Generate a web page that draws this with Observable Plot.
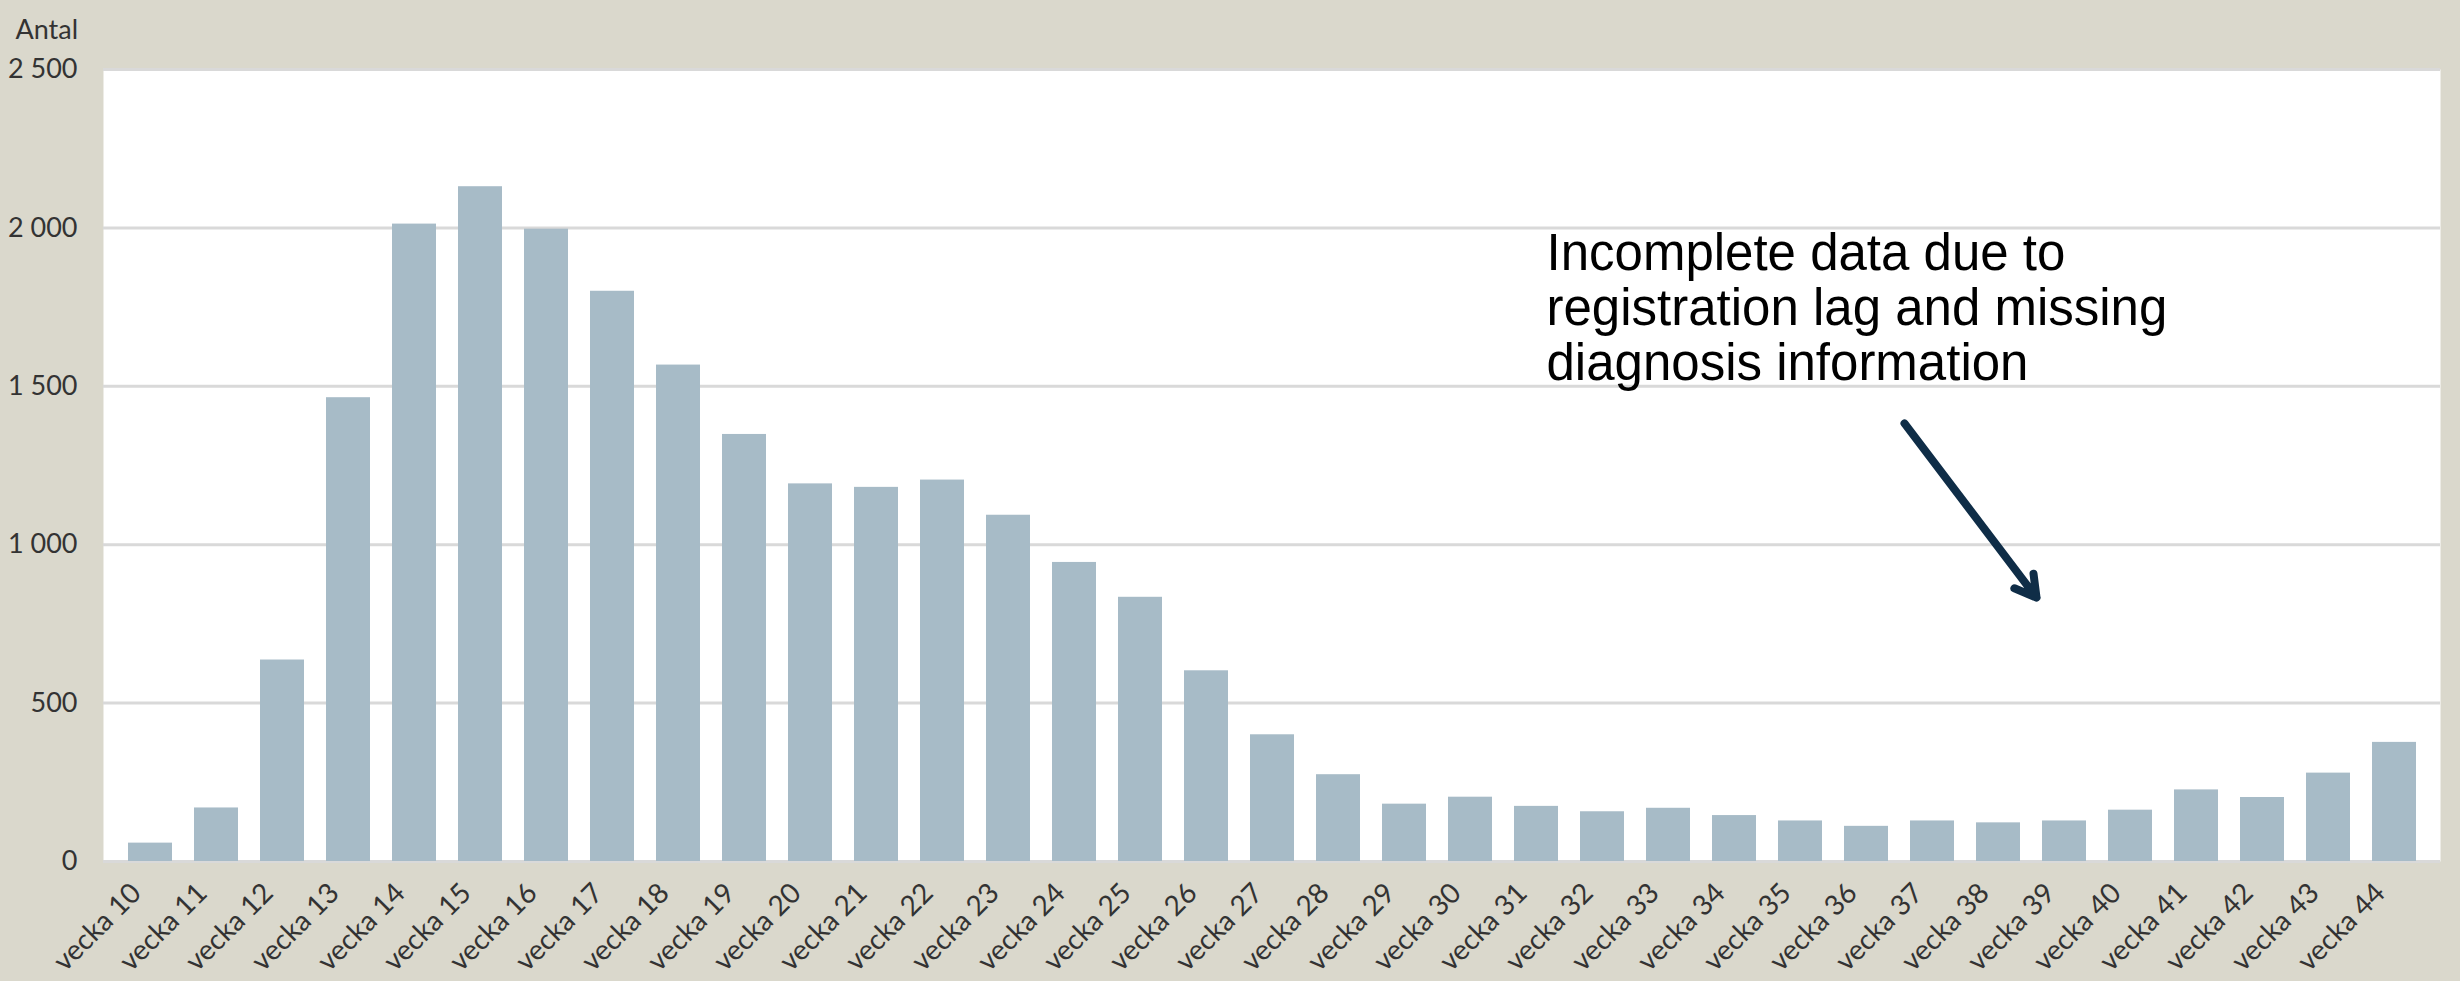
<!DOCTYPE html>
<html><head><meta charset="utf-8">
<script src="https://cdn.jsdelivr.net/npm/d3@7"></script>
<script src="https://cdn.jsdelivr.net/npm/@observablehq/plot@0.6"></script>
<style>html,body{margin:0;padding:0;background:#dad8cc;overflow:hidden}</style>
</head><body><div id="chart"></div>
<script>
const weeks = ["vecka 10","vecka 11","vecka 12","vecka 13","vecka 14","vecka 15","vecka 16","vecka 17","vecka 18","vecka 19",
  "vecka 20","vecka 21","vecka 22","vecka 23","vecka 24","vecka 25","vecka 26","vecka 27","vecka 28","vecka 29",
  "vecka 30","vecka 31","vecka 32","vecka 33","vecka 34","vecka 35","vecka 36","vecka 37","vecka 38","vecka 39",
  "vecka 40","vecka 41","vecka 42","vecka 43","vecka 44"];
const counts = [58,169,636,1464,2012,2130,1996,1800,1567,1348,
  1192,1181,1204,1093,944,834,602,400,274,181,
  203,174,157,168,145,128,111,128,122,128,
  162,226,202,279,376];
const yTicks = [0,500,1000,1500,2000,2500];
const yLabel = "Antal";
const noteLines = ["Incomplete data due to","registration lag and missing","diagnosis information"];
const noteAnchor = [{week:"vecka 31", value:1990}];
const arrowFrom = {week:"vecka 36", value:1383};
const arrowTo = {week:"vecka 38", value:833};

const data = weeks.map((w,i)=>({week:w, count:counts[i]}));
const fmt = d => d3.format(",")(d).replace(/,/g, " ");

const chart = Plot.plot({
  width: 2460, height: 981,
  marginTop: 69, marginLeft: 103, marginRight: 20, marginBottom: 120,
  style: {background:"#dad8cc", fontFamily:"Lato, sans-serif", fontSize:"27px", color:"#333"},
  x: {domain: weeks, paddingInner:0.34, paddingOuter:0.17, label:null},
  y: {domain:[0,2500], ticks:yTicks, label:null, tickFormat: fmt},
  marks: [
    Plot.frame({fill:"white", stroke:null}),
    Plot.gridY(yTicks, {stroke:"#d9d9d9", strokeOpacity:1, strokeWidth:3}),
    Plot.barY(data, {x:"week", y:"count", fill:"#a7bbc7"}),
    Plot.axisY(yTicks, {tickSize:0, tickPadding:26, tickFormat: fmt, label:null, fontSize:27, fill:"#333"}),
    Plot.axisX({tickSize:0, tickPadding:18, tickRotate:-45, label:null, fontSize:28, fill:"#333", dx:-14, dy:9}),
    Plot.text([yLabel], {frameAnchor:"top-left", text:d=>d, textAnchor:"start", dx:-88, dy:-50, fontSize:27, fill:"#333"}),
    Plot.text(noteAnchor, {x:"week", y:"value", text:()=>noteLines.join("\n"), textAnchor:"start", lineAnchor:"top",
      dx:10, fontSize:51, lineHeight:1.08, fontFamily:"'Liberation Sans', Arial, sans-serif", fill:"#000"}),
    Plot.arrow([{from:arrowFrom, to:arrowTo}], {x1:d=>d.from.week, y1:d=>d.from.value, x2:d=>d.to.week, y2:d=>d.to.value,
      stroke:"#0f2d47", strokeWidth:8, headLength:4.5, dx:38})
  ]
});
document.getElementById("chart").appendChild(chart);
</script>
</body></html>
